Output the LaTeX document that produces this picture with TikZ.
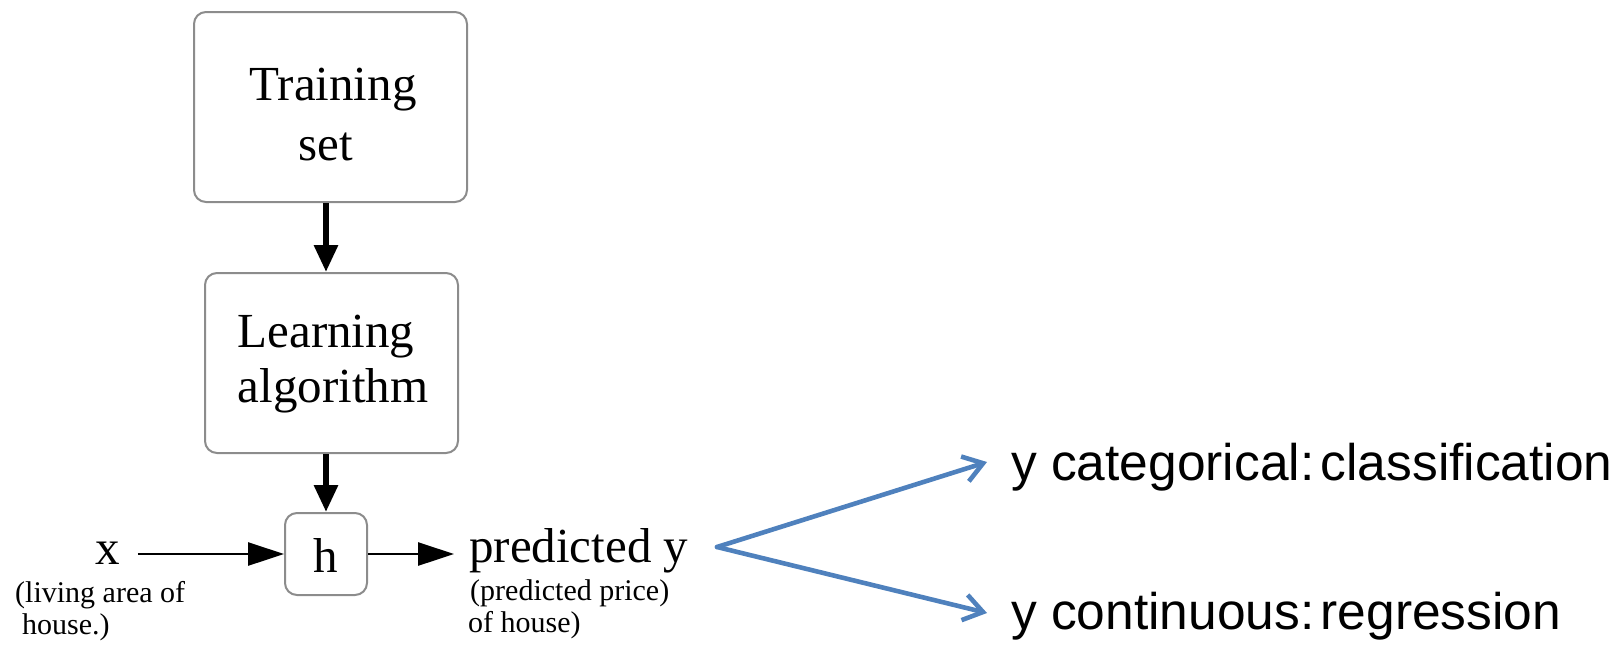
\documentclass[tikz,border=0pt]{standalone}
\usepackage{fontspec}
\setmainfont{Liberation Serif}
\newfontfamily\sansf{Liberation Sans}
\usetikzlibrary{arrows.meta}
\definecolor{boxgray}{HTML}{8C8C8C}
\definecolor{arrowblue}{HTML}{4F81BD}
\tikzset{
  x=1pt, y=-1pt,
  roundbox/.style={draw=boxgray, line width=2pt, rounded corners=12pt, fill=white, inner sep=0pt},
  bigtxt/.style={inner sep=0pt, font=\fontsize{49}{57}\selectfont, anchor=base},
  smalltxt/.style={inner sep=0pt, font=\fontsize{30}{32}\selectfont, anchor=base west},
  sanstxt/.style={inner sep=0pt, font=\sansf\fontsize{51.5}{60}\selectfont, anchor=base west},
  varrow/.style={line width=6pt, -{Triangle[length=27pt,width=23pt]}},
  harrow/.style={line width=2.8pt, -{Triangle[length=36pt,width=23pt]}},
  barrow/.style={draw=arrowblue, line width=4.6pt, line cap=round, -{Straight Barb[length=19pt,width=26pt,line width=4.6pt]}}
}
\begin{document}
\begin{tikzpicture}
\useasboundingbox (0,0) rectangle (1624,648);
% boxes
\node[roundbox, minimum width=273pt, minimum height=190pt] (train) at (330.5,107) {};
\node[roundbox, minimum width=253pt, minimum height=180pt] (learn) at (331.5,363) {};
\node[roundbox, minimum width=82pt, minimum height=82pt] (h) at (326,554) {};
% box texts
\node[bigtxt] (t1) at (333,100) {Training};
\node[bigtxt] (t2) at (326,160) {set};
\node[bigtxt] (l1) at (326,347) {Learning};
\node[bigtxt] (l2) at (333,402) {algorithm};
\node[bigtxt] (htxt) at (326,572) {h};
% input / output
\node[bigtxt] (xlbl) at (107.5,564) {x};
\node[smalltxt] (xsub1) at (15,602) {(living area of};
\node[smalltxt] (xsub2) at (22,634) {house.)};
\node[inner sep=0pt, font=\fontsize{49}{57}\selectfont, anchor=base west] (pred) at (469,562) {predicted y};
\node[smalltxt] (psub1) at (470,600) {(predicted price)};
\node[smalltxt] (psub2) at (468,632) {of house)};
% right texts
\node[sanstxt] (cat) at (1011,480) {y categorical:\hspace{0.12em}classification};
\node[sanstxt] (cont) at (1011,629) {y continuous:\hspace{0.12em}regression};
% connectors
\draw[varrow] (h.north |- train.south) -- (h.north |- learn.north);
\draw[varrow] (h.north |- learn.south) -- (h.north);
\draw[harrow, shorten <=18pt] (xlbl.east |- h.west) -- (h.west);
\draw[harrow, shorten >=15pt] (h.east) -- (h.east -| pred.west);
\coordinate (fork) at (717,547);
\coordinate (tipc) at (987,462);
\coordinate (tipr) at (987,613);
\draw[barrow] (fork) -- (tipc);
\draw[barrow] (fork) -- (tipr);
\end{tikzpicture}
\end{document}
